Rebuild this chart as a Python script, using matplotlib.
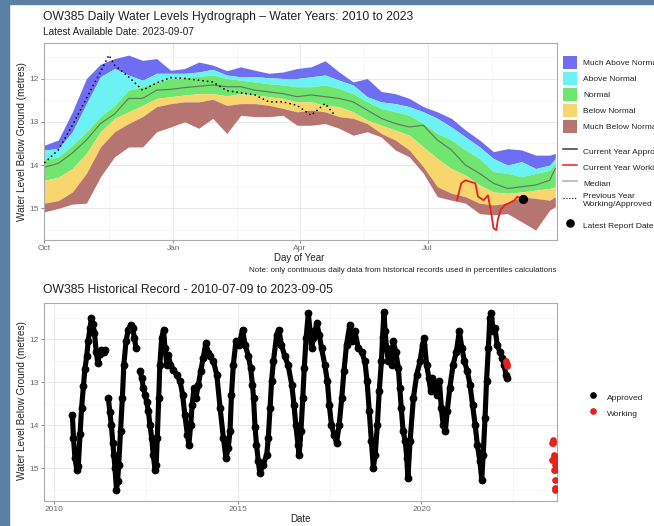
import matplotlib
matplotlib.use("Agg")
import matplotlib.pyplot as plt
from matplotlib.patches import Patch, Rectangle
from matplotlib.lines import Line2D
import numpy as np

plt.rcParams['font.family'] = ['Liberation Sans', 'DejaVu Sans']

# ---------------- data: daily hydrograph (day of water year, Oct 1 = 0) -------------
band_days = [0, 10, 20, 30, 40, 50, 60, 70, 80, 90, 100, 110, 120, 130, 140, 150, 160, 170,
             180, 190, 200, 210, 220, 230, 240, 250, 260, 270, 280, 290, 300, 310, 320, 330,
             340, 350, 360, 364]
level_max = [13.54, 13.42, 12.77, 12.00, 11.67, 11.54, 11.46, 11.58, 11.54, 11.81, 11.77, 11.62,
             11.69, 11.82, 11.73, 11.81, 11.88, 11.85, 11.77, 11.73, 11.59, 11.85, 12.08, 12.00,
             12.30, 12.35, 12.46, 12.65, 12.77, 12.92, 13.19, 13.42, 13.69, 13.62, 13.65, 13.77,
             13.77, 13.73]
level_p90 = [13.65, 13.62, 13.23, 12.58, 11.96, 11.77, 11.92, 12.04, 11.88, 11.88, 11.88, 11.85,
             11.79, 11.92, 11.96, 11.96, 11.98, 12.00, 12.00, 11.96, 11.92, 12.04, 12.15, 12.42,
             12.54, 12.58, 12.65, 12.77, 12.92, 13.12, 13.35, 13.58, 13.85, 14.00, 13.92, 14.08,
             14.00, 13.85]
level_p75 = [13.88, 13.81, 13.54, 13.23, 12.88, 12.62, 12.27, 12.19, 12.08, 12.00, 11.98, 11.95,
             11.92, 12.00, 12.04, 12.08, 12.12, 12.15, 12.19, 12.19, 12.15, 12.23, 12.35, 12.54,
             12.69, 12.77, 12.85, 13.04, 13.27, 13.42, 13.65, 13.85, 14.15, 14.19, 14.27, 14.19,
             14.12, 13.96]
level_median = [14.05, 13.96, 13.72, 13.42, 13.04, 12.82, 12.46, 12.46, 12.27, 12.25, 12.21, 12.18,
                12.15, 12.19, 12.19, 12.27, 12.31, 12.35, 12.42, 12.38, 12.42, 12.46, 12.54, 12.73,
                12.92, 13.04, 13.12, 13.08, 13.42, 13.65, 14.00, 14.19, 14.42, 14.54, 14.50, 14.46,
                14.35, 14.08]
level_p25 = [14.35, 14.28, 14.08, 13.73, 13.23, 12.92, 12.77, 12.62, 12.46, 12.42, 12.38, 12.35,
             12.35, 12.40, 12.35, 12.38, 12.42, 12.46, 12.54, 12.54, 12.62, 12.65, 12.77, 12.96,
             13.08, 13.19, 13.31, 13.58, 13.85, 14.08, 14.23, 14.46, 14.62, 14.65, 14.62, 14.58,
             14.54, 14.50]
level_p10 = [14.88, 14.82, 14.62, 14.19, 13.58, 13.23, 13.04, 12.88, 12.65, 12.58, 12.54, 12.54,
             12.48, 12.62, 12.58, 12.58, 12.62, 12.69, 12.77, 12.73, 12.77, 12.88, 12.92, 13.04,
             13.27, 13.42, 13.65, 14.04, 14.50, 14.65, 14.73, 14.88, 14.92, 14.88, 14.73, 14.77,
             14.81, 14.73]
level_min = [15.08, 15.00, 14.90, 14.88, 14.27, 13.81, 13.58, 13.58, 13.23, 13.12, 13.00, 13.15,
             12.92, 13.27, 12.85, 12.88, 12.88, 12.85, 13.08, 13.08, 13.04, 13.15, 13.31, 13.23,
             13.35, 13.65, 13.81, 14.19, 14.73, 14.81, 14.88, 15.12, 15.15, 15.12, 15.31, 15.50,
             15.04, 14.96]

prev_days = [0, 10, 20, 30, 40, 46, 50, 60, 70, 80, 90, 100, 110, 120, 130, 140, 150, 160, 170,
             180, 190, 200, 207]
prev_level = [13.95, 13.65, 13.08, 12.46, 11.85, 11.46, 11.69, 11.96, 12.27, 12.10, 11.98, 12.00,
              12.04, 12.08, 12.28, 12.33, 12.38, 12.54, 12.54, 12.62, 12.85, 12.58, 12.85]

cur_days = [294, 297, 300, 303, 307, 309, 311, 313, 316, 318, 320, 322, 323, 325, 328, 331, 335,
            337, 341]
cur_level = [14.81, 14.42, 14.35, 14.38, 14.42, 14.73, 14.77, 14.81, 14.70, 15.04, 15.46, 15.50,
             15.27, 15.04, 14.92, 14.88, 14.81, 14.73, 14.79]
latest_day = 341
latest_level = 14.79

month_ticks = [0, 92, 182, 273]
month_labels = ["Oct", "Jan", "Apr", "Jul"]

# ---------------- data: historical record (decimal year) ----------------
nan = float("nan")
hist_year = [
    2010.50, 2010.53, 2010.57, 2010.62, 2010.66, 2010.71, 2010.75, 2010.80, 2010.84, 2010.89,
    2010.93, 2010.98, 2011.02, 2011.06, 2011.10, 2011.15, 2011.19, 2011.24, 2011.29, 2011.35,
    2011.39, 2011.43,
    2011.48, 2011.52, 2011.56, 2011.60, 2011.63, 2011.66, 2011.70, 2011.73, 2011.76, 2011.81,
    2011.86, 2011.90, 2011.96, 2012.02, 2012.09, 2012.14, 2012.19, 2012.23, 2012.28,
    2012.34, 2012.39, 2012.43, 2012.48, 2012.52, 2012.57, 2012.61, 2012.66, 2012.70, 2012.75,
    2012.78, 2012.81, 2012.85, 2012.88, 2012.93, 2012.98, 2013.02, 2013.07, 2013.11, 2013.17,
    2013.25, 2013.34, 2013.43, 2013.50, 2013.56, 2013.63, 2013.67, 2013.72, 2013.76, 2013.81,
    2013.86, 2013.93, 2013.99, 2014.06, 2014.13, 2014.20, 2014.25, 2014.34, 2014.43, 2014.52,
    2014.61, 2014.68, 2014.74, 2014.79, 2014.83, 2014.88, 2014.95, 2015.04, 2015.13, 2015.20,
    2015.29, 2015.35, 2015.40, 2015.43, 2015.47, 2015.51, 2015.56, 2015.60, 2015.69, 2015.79,
    2015.83, 2015.88, 2015.92, 2015.97, 2016.06, 2016.12, 2016.19, 2016.28, 2016.37, 2016.47,
    2016.53, 2016.58, 2016.64, 2016.67, 2016.72, 2016.77, 2016.81, 2016.86, 2016.92, 2016.97,
    2017.01, 2017.06, 2017.15, 2017.22, 2017.28, 2017.37, 2017.44, 2017.49, 2017.55, 2017.62,
    2017.69, 2017.76, 2017.83, 2017.89, 2017.96, 2018.05, 2018.12, 2018.19, 2018.28, 2018.37,
    2018.46, 2018.52, 2018.58, 2018.64, 2018.69, 2018.74, 2018.80, 2018.85, 2018.91, 2018.94,
    2018.98, 2019.01, 2019.05, 2019.10, 2019.14, 2019.19, 2019.23, 2019.30, 2019.37, 2019.41,
    2019.45, 2019.50, 2019.56, 2019.60, 2019.63, 2019.69, 2019.78, 2019.87, 2019.96, 2020.03,
    2020.07, 2020.14, 2020.20, 2020.25, 2020.30, 2020.37, 2020.43, 2020.49, 2020.54, 2020.59,
    2020.65, 2020.70, 2020.77, 2020.86, 2020.95, 2021.03, 2021.10, 2021.17, 2021.25, 2021.32,
    2021.39, 2021.46, 2021.52, 2021.59, 2021.64, 2021.68, 2021.73, 2021.77, 2021.82, 2021.86,
    2021.90, 2021.95, 2022.00, 2022.06, 2022.13, 2022.20, 2022.25, 2022.30, 2022.34]
hist_level = [
    13.76, 14.30, 14.76, 15.03, 14.95, 14.20, 13.60, 13.10, 12.70, 12.40,
    12.05, 11.75, 11.50, 11.65, 11.85, 12.30, 12.55, 12.35, 12.25, 12.30,
    12.25, nan,
    13.37, 13.70, 14.00, 14.40, 14.70, 15.00, 15.50, 15.30, 14.92, 14.14,
    13.37, 12.60, 12.05, 11.78, 11.67, 11.74, 11.98, 12.20, nan,
    12.75, 12.90, 13.14, 13.29, 13.45, 13.68, 13.99, 14.30, 14.68, 15.03,
    14.92, 14.30, 13.37, 12.60, 11.98, 11.78, 12.21, 12.60, 12.36, 12.60,
    12.71, 12.83, 12.98, 13.29, 13.76, 14.22, 14.45, 13.99, 13.52, 13.14,
    13.37, 13.06, 12.75, 12.44, 12.10, 12.32, 12.40, 12.52, 12.83, 13.60,
    14.30, 14.76, 14.53, 14.14, 13.29, 12.60, 12.05, 12.13, 11.78, 12.13,
    12.40, 12.67, 13.06, 13.37, 14.03, 14.45, 14.84, 15.11, 14.92, 14.68,
    14.30, 13.60, 12.98, 12.52, 11.90, 11.78, 12.13, 12.40, 12.60, 13.06,
    13.52, 13.99, 14.45, 14.68, 14.14, 13.37, 12.67, 11.98, 11.40, 11.82,
    12.21, 11.98, 11.63, 11.90, 12.21, 12.60, 12.98, 13.52, 13.99, 14.22,
    14.41, 13.99, 13.37, 12.75, 12.13, 11.67, 12.05, 11.82, 12.21, 12.29,
    12.52, 12.98, 13.68, 14.37, 14.99, 14.68, 13.99, 13.21, 12.52, 11.95,
    11.37, 11.82, 12.21, 12.52, 12.36, 12.60, 12.05, 12.29, 12.67, 13.14,
    13.60, 14.14, 14.37, 14.76, 15.23, 14.37, 13.37, 12.83, 12.52, 12.13,
    11.98, 12.60, 12.90, 13.21, 12.90, 13.06, 13.29, 12.98, 13.60, 13.99,
    14.14, 13.68, 13.14, 12.60, 12.29, 11.82, 12.21, 12.52, 12.75, 13.06,
    13.52, 13.99, 14.45, 14.84, 15.26, 14.68, 13.83, 12.98, 12.21, 11.51,
    11.40, 11.82, 11.74, 12.13, 12.29, 12.44, 12.60, 12.83, 12.90]

work_2022_year = [2022.29, 2022.305, 2022.32, 2022.335]
work_2022_level = [12.52, 12.56, 12.58, 12.62]

year_ticks = [2010, 2015, 2020]

# ---------------- figure ----------------
W, H = 654, 526
fig = plt.figure(figsize=(W / 100, H / 100), dpi=100)

# screenshot frame
fig.patches.append(Rectangle((0, 0), 8.5 / W, 1, transform=fig.transFigure,
                             color="#5a7fa2", zorder=-10))
fig.patches.append(Rectangle((0, 1 - 3.5 / H), 1, 3.5 / H, transform=fig.transFigure,
                             color="#5a7fa2", zorder=-10))


def px_axes(x0, y0, x1, y1):
    return fig.add_axes([x0 / W, 1 - y1 / H, (x1 - x0) / W, (y1 - y0) / H])


GRID_MAJ = "#e4e4e4"
GRID_MIN = "#f1f1f1"
TICK_COL = "#5a5a5a"
TXT = "#222222"


def style_axes(ax):
    for s in ax.spines.values():
        s.set_color("#ababab")
        s.set_linewidth(0.8)
    ax.set_axisbelow(True)
    ax.grid(which="major", color=GRID_MAJ, lw=0.6)
    ax.grid(which="minor", color=GRID_MIN, lw=0.45)
    ax.tick_params(which="major", length=2.3, width=0.5, color=TICK_COL,
                   labelsize=6.0, labelcolor="#6a6a6a", pad=1.4)
    ax.tick_params(which="minor", length=0)


# ---- top hydrograph ----
ax1 = px_axes(44.3, 43, 556.7, 240)
c_much_above = "#6e6ef3"
c_above = "#6cf2f2"
c_normal = "#70e670"
c_below = "#f8d66e"
c_much_below = "#b77572"
ax1.fill_between(band_days, level_max, level_p90, color=c_much_above, lw=0, zorder=1)
ax1.fill_between(band_days, level_p90, level_p75, color=c_above, lw=0, zorder=1)
ax1.fill_between(band_days, level_p75, level_p25, color=c_normal, lw=0, zorder=1)
ax1.fill_between(band_days, level_p25, level_p10, color=c_below, lw=0, zorder=1)
ax1.fill_between(band_days, level_p10, level_min, color=c_much_below, lw=0, zorder=1)
ax1.plot(band_days, level_median, color="#5e5e5e", alpha=0.8, lw=0.85, zorder=2)
ax1.plot(prev_days, prev_level, color="black", lw=1.1, ls=(0, (1.0, 2.0)), zorder=3)
ax1.plot(cur_days, cur_level, color="#e3231c", lw=1.3, zorder=4)
ax1.plot([latest_day], [latest_level], "o", color="black", ms=5.6, zorder=5)

ax1.set_xlim(0, 365)
ax1.set_ylim(15.73, 11.18)
ax1.set_xticks(month_ticks)
ax1.set_xticklabels(month_labels)
ax1.set_xticks([46, 137, 227.5, 319], minor=True)
ax1.set_yticks([12, 13, 14, 15])
ax1.set_yticks([11.5, 12.5, 13.5, 14.5, 15.5], minor=True)
style_axes(ax1)

# ---- bottom historical record ----
ax2 = px_axes(44.3, 303.3, 556.7, 500.7)
ax2.plot(hist_year, hist_level, color="black", lw=3.7, solid_capstyle="round",
         solid_joinstyle="round", zorder=3)
ax2.plot(hist_year, hist_level, "o", color="black", ms=4.6, zorder=3)
work_year = [2022 + (273 + d) / 365.0 for d in cur_days]
ax2.plot(work_2022_year, work_2022_level, "o", color="#e3231c", ms=3.8, zorder=4)
ax2.plot(work_year, cur_level, "o", color="#e3231c", ms=3.8, zorder=4)
ax2.set_xlim(2009.736, 2023.68)
ax2.set_ylim(15.75, 11.17)
ax2.set_xticks(year_ticks)
ax2.set_xticklabels([str(y) for y in year_ticks])
ax2.set_xticks([2012.5, 2017.5, 2022.5], minor=True)
ax2.set_yticks([12, 13, 14, 15])
ax2.set_yticks([11.5, 12.5, 13.5, 14.5, 15.5], minor=True)
style_axes(ax2)

# ---- texts ----
def ftext(x, y, s, **kw):
    fig.text(x / W, 1 - y / H, s, **kw)


ftext(43.3, 17, "OW385 Daily Water Levels Hydrograph \u2013 Water Years: 2010 to 2023",
      fontsize=8.7, color=TXT, va="center", ha="left")
ftext(43.3, 32, "Latest Available Date: 2023-09-07", fontsize=7.2, color=TXT,
      va="center", ha="left")
ftext(22.5, 141.5, "Water Level Below Ground (metres)", fontsize=7.2, color=TXT,
      rotation=90, va="center", ha="center")
ftext(299, 258, "Day of Year", fontsize=7.0, color=TXT, va="center", ha="center")
ftext(556.7, 270.5,
      "Note: only continuous daily data from historical records used in percentiles calculations",
      fontsize=5.8, color=TXT, va="center", ha="right")
ftext(43.3, 290, "OW385 Historical Record - 2010-07-09 to 2023-09-05", fontsize=8.75,
      color=TXT, va="center", ha="left")
ftext(22.5, 401, "Water Level Below Ground (metres)", fontsize=7.2, color=TXT,
      rotation=90, va="center", ha="center")
ftext(300.5, 519, "Date", fontsize=7.0, color=TXT, va="center", ha="center")

# ---- legends ----
LFS = 6.0
fpx = LFS * 100 / 72.0
HH = (13 / fpx - 0.245) / 0.65
fill_handles = [Patch(facecolor=c, edgecolor="none") for c in
                [c_much_above, c_above, c_normal, c_below, c_much_below]]
fill_labels = ["Much Above Normal", "Above Normal", "Normal", "Below Normal",
               "Much Below Normal"]
fig.legend(fill_handles, fill_labels, loc="upper left",
           bbox_to_anchor=(563 / W, 1 - 55.5 / H), frameon=False, fontsize=LFS,
           borderpad=0, borderaxespad=0, handlelength=14 / fpx, handleheight=HH,
           labelspacing=3 / fpx, handletextpad=6 / fpx, labelcolor=TXT)

line_handles = [Line2D([], [], color="#3a3a3a", lw=1.1),
                Line2D([], [], color="#e3231c", lw=1.1),
                Line2D([], [], color="#5e5e5e", alpha=0.5, lw=1.1),
                Line2D([], [], color="black", lw=0.8, ls=(0, (1.0, 1.6)))]
line_labels = ["Current Year Approved", "Current Year Working", "Median",
               "Previous Year\nWorking/Approved"]
fig.legend(line_handles, line_labels, loc="upper left",
           bbox_to_anchor=(563 / W, 1 - 144.5 / H), frameon=False, fontsize=LFS,
           borderpad=0, borderaxespad=0, handlelength=14 / fpx, handleheight=HH,
           labelspacing=3 / fpx, handletextpad=6 / fpx, labelcolor=TXT)

dot_handles = [Line2D([], [], color="black", marker="o", ls="", ms=5.2)]
fig.legend(dot_handles, ["Latest Report Date"], loc="upper left",
           bbox_to_anchor=(563 / W, 1 - 218.5 / H), frameon=False, fontsize=LFS,
           borderpad=0, borderaxespad=0, handlelength=14 / fpx, handleheight=HH,
           handletextpad=6 / fpx, labelcolor=TXT)

hist_handles = [Line2D([], [], color="black", marker="o", ls="", ms=3.8),
                Line2D([], [], color="#e3231c", marker="o", ls="", ms=3.8)]
fig.legend(hist_handles, ["Approved", "Working"], loc="upper left",
           bbox_to_anchor=(587 / W, 1 - 390.5 / H), frameon=False, fontsize=LFS,
           borderpad=0, borderaxespad=0, handlelength=12 / fpx, handleheight=HH,
           labelspacing=3 / fpx, handletextpad=8 / fpx, labelcolor=TXT)

fig.savefig("out.png", dpi=100)
